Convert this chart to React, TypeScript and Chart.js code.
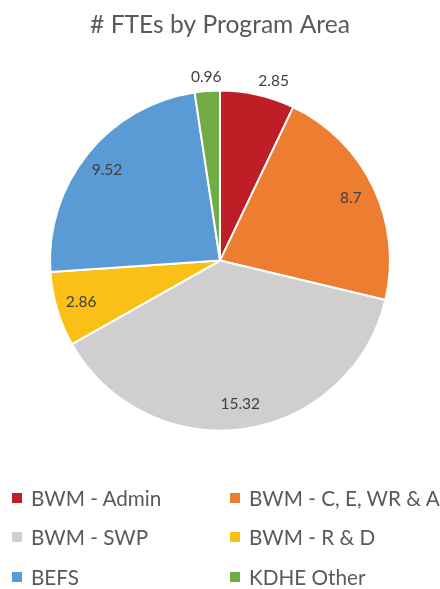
import React, { useEffect, useRef } from "react";
import { Chart, registerables } from "chart.js";

Chart.register(...registerables);

const categories = ["BWM - Admin", "BWM - C, E, WR & A", "BWM - SWP", "BWM - R & D", "BEFS", "KDHE Other"];
const fteValues = [2.85, 8.7, 15.32, 2.86, 9.52, 0.96];
const sliceColors = ["#BF1E27", "#ED7D31", "#D0CECE", "#FBC015", "#5B9BD5", "#70AD47"];
const titleText = "# FTEs by Program Area";

const FONT = "Lato, 'Open Sans', sans-serif";

const sliceLabelPlugin = {
  id: "sliceLabels",
  afterDatasetsDraw(chart: any, _args: any, opts: any) {
    const ctx = chart.ctx;
    const meta = chart.getDatasetMeta(0);
    const data = chart.data.datasets[0].data;
    ctx.save();
    ctx.font = `${opts.size}px ${FONT}`;
    ctx.fillStyle = opts.color;
    ctx.textAlign = "center";
    ctx.textBaseline = "middle";
    meta.data.forEach((arc: any, i: number) => {
      const { x, y, startAngle, endAngle, outerRadius } = arc.getProps(
        ["x", "y", "startAngle", "endAngle", "outerRadius"],
        true
      );
      const mid = (startAngle + endAngle) / 2;
      const outside = opts.outside[i];
      const d = outside ? outerRadius + opts.outsideGap : outerRadius * opts.insideRatio;
      const lx = x + Math.cos(mid) * d + (opts.nudgeX[i] || 0);
      const ly = y + Math.sin(mid) * d;
      ctx.fillText(String(data[i]), lx, ly);
    });
    ctx.restore();
  },
};

export default function App() {
  const canvasRef = useRef<HTMLCanvasElement>(null);

  useEffect(() => {
    if (!canvasRef.current) return;
    const chart = new Chart(canvasRef.current, {
      type: "pie",
      data: {
        labels: categories,
        datasets: [
          {
            data: fteValues,
            backgroundColor: sliceColors,
            borderColor: "#FFFFFF",
            borderWidth: 2,
            radius: 170,
          } as any,
        ],
      },
      options: {
        animation: false,
        responsive: false,
        devicePixelRatio: 1,
        layout: { padding: { top: 0, bottom: 117.4, left: 0, right: 0 } },
        plugins: {
          legend: { display: false },
          tooltip: { enabled: false },
          title: {
            display: true,
            text: titleText,
            color: "#595959",
            font: { family: FONT, size: 24.6, weight: "normal" },
            padding: { top: 10, bottom: 10 },
          },
          sliceLabels: {
            size: 15.5,
            color: "#404040",
            insideRatio: 0.853,
            outsideGap: 14,
            outside: [true, false, false, false, false, true],
            nudgeX: [13, 0, 0, 0, 0, 0],
          },
        } as any,
      },
      plugins: [sliceLabelPlugin],
    });
    return () => chart.destroy();
  }, []);

  return (
    <div style={{ position: "absolute", left: 0, top: 0, width: 440, height: 589, background: "#fff", overflow: "hidden" }}>
      <canvas ref={canvasRef} width={440} height={589} style={{ position: "absolute", left: 0, top: 0 }} />
      <div
        style={{
          position: "absolute",
          left: 12,
          top: 478,
          display: "grid",
          gridTemplateColumns: "218px 210px",
          gridAutoRows: "39.5px",
          fontFamily: FONT,
          fontSize: 20.7,
          color: "#595959",
        }}
      >
        {categories.map((c, i) => (
          <div key={c} style={{ display: "flex", alignItems: "center", whiteSpace: "nowrap" }}>
            <span style={{ display: "inline-block", width: 10, height: 10, background: sliceColors[i], marginRight: 9 }} />
            <span>{c}</span>
          </div>
        ))}
      </div>
    </div>
  );
}
